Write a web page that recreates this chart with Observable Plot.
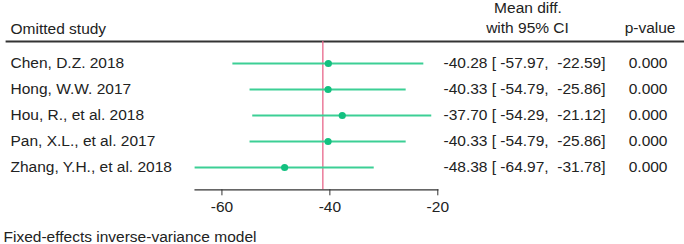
<!DOCTYPE html>
<html>
<head>
<meta charset="utf-8">
<script src="https://cdn.jsdelivr.net/npm/d3@7"></script>
<script src="https://cdn.jsdelivr.net/npm/@observablehq/plot@0.6"></script>
<style>
  html, body { margin: 0; padding: 0; background: #fff; }
  svg text { white-space: pre; }
</style>
</head>
<body>
<div id="chart"></div>
<script>
const studies = ["Chen, D.Z. 2018", "Hong, W.W. 2017", "Hou, R., et al. 2018", "Pan, X.L., et al. 2017", "Zhang, Y.H., et al. 2018"];
const estimates = [-40.28, -40.33, -37.70, -40.33, -48.38];
const lower = [-57.97, -54.79, -54.29, -54.79, -64.97];
const upper = [-22.59, -25.86, -21.12, -25.86, -31.78];
const pvalues = ["0.000", "0.000", "0.000", "0.000", "0.000"];
const overall = -41.3;
const xTicks = [-60, -40, -20];

const rows = studies.map((s, i) => ({study: s, est: estimates[i], lo: lower[i], hi: upper[i], p: pvalues[i]}));
const f = v => v.toFixed(2);

const font = "Liberation Sans, Arial, Helvetica, sans-serif";
const fs = 15.5;
const ml = 194.6, mr = 246.7;
const common = {fill: "#222", fontSize: fs, lineAnchor: "middle"};

const plot = Plot.plot({
  width: 684,
  height: 244,
  marginLeft: ml,
  marginRight: mr,
  marginTop: 41,
  marginBottom: 54.7,
  style: {fontFamily: font, fontSize: fs + "px", color: "#222", background: "#fff"},
  x: {domain: [d3.min(lower), -20]},
  y: {type: "point", domain: studies, range: [62.7, 167.7], padding: 0, axis: null},
  marks: [
    Plot.frame({anchor: "top", insetLeft: -(ml - 6), insetRight: -mr, stroke: "#333", strokeWidth: 1.8}),
    Plot.ruleX([overall], {stroke: "#e8668a", strokeWidth: 1.3}),
    Plot.ruleY(rows, {y: "study", x1: "lo", x2: "hi", stroke: "#3ccf95", strokeWidth: 2}),
    Plot.dot(rows, {x: "est", y: "study", r: 3.6, fill: "#13c180", stroke: "none"}),
    Plot.frame({anchor: "bottom", stroke: "#333", strokeWidth: 1.3}),
    Plot.axisX({ticks: xTicks, tickSize: 6, tickPadding: 5, tickFormat: d => String(d).replace("−", "-"), fontSize: fs, stroke: "#333", color: "#222", label: null}),
    Plot.text(rows, {...common, y: "study", text: "study", frameAnchor: "left", dx: 10 - ml, textAnchor: "start"}),
    Plot.text(rows, {...common, y: "study", text: d => `${f(d.est)} [ ${f(d.lo)},  ${f(d.hi)}]`, frameAnchor: "right", dx: 5.7, textAnchor: "start"}),
    Plot.text(rows, {...common, y: "study", text: "p", frameAnchor: "right", dx: 667 - (684 - mr), textAnchor: "end"}),
    Plot.text(["Omitted study"], {...common, text: d => d, frameAnchor: "top-left", dx: 10 - ml, dy: -12, textAnchor: "start"}),
    Plot.text(["Mean diff."], {...common, text: d => d, frameAnchor: "top-right", dx: 527.5 - (684 - mr), dy: -33, textAnchor: "middle"}),
    Plot.text(["with 95% CI"], {...common, text: d => d, frameAnchor: "top-right", dx: 527 - (684 - mr), dy: -13, textAnchor: "middle"}),
    Plot.text(["p-value"], {...common, text: d => d, frameAnchor: "top-right", dx: 675 - (684 - mr), dy: -13, textAnchor: "end"}),
    Plot.text(["Fixed-effects inverse-variance model"], {...common, text: d => d, frameAnchor: "bottom-left", dx: 3 - ml, dy: 47.5, textAnchor: "start"})
  ]
});
document.getElementById("chart").appendChild(plot);
</script>
</body>
</html>
